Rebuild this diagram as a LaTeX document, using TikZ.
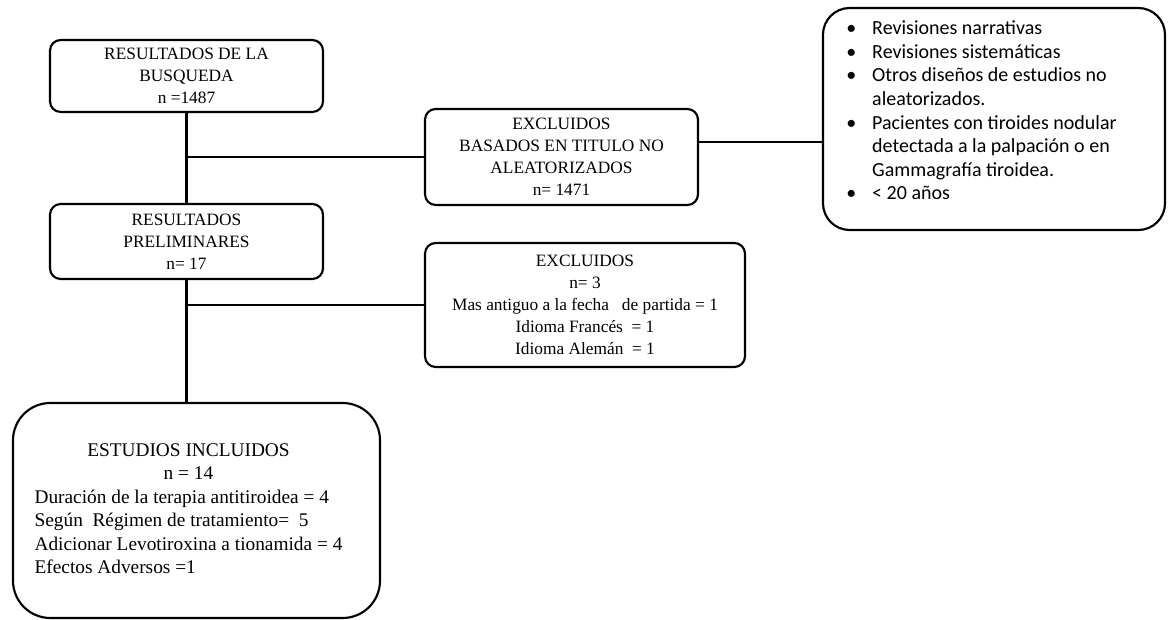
\documentclass[tikz,border=0pt]{standalone}
\usepackage{fontspec}
\setmainfont{Liberation Serif}
\newfontfamily\bulfont{Carlito}
\usetikzlibrary{calc}
\begin{document}
\begin{tikzpicture}[x=0.75pt,y=-0.75pt,
  boxbase/.style={draw=black, line width=1.6pt, align=center, inner sep=0pt},
  smallbox/.style={boxbase, rounded corners=8pt, font=\fontsize{13}{16.4}\selectfont},
  link/.style={draw=black, line width=1.6pt}]
\useasboundingbox (0,0) rectangle (1168,620);

\node[smallbox, minimum width=273*0.75pt, minimum height=72*0.75pt] (b1) at (186.5,76)
  {RESULTADOS DE LA\\BUSQUEDA\\n =1487};
\node[smallbox, minimum width=273*0.75pt, minimum height=75*0.75pt] (b2) at (186.5,241.5)
  {RESULTADOS\\PRELIMINARES\\n= 17};
\node[smallbox, minimum width=273*0.75pt, minimum height=96*0.75pt] (b3) at (561.5,157)
  {EXCLUIDOS\\BASADOS EN TITULO NO\\ALEATORIZADOS\\n= 1471};
\node[smallbox, minimum width=320*0.75pt, minimum height=124*0.75pt] (b5) at (585,305)
  {EXCLUIDOS\\n= 3\\Mas antiguo a la fecha\ \ \ de partida = 1\\Idioma Francés \ = 1\\Idioma Alemán \ = 1};
\node[boxbase, rounded corners=20pt, minimum width=342*0.75pt, minimum height=222*0.75pt] (b4) at (994,119) {};
\node[anchor=north west, inner sep=0pt, font=\bulfont\fontsize{15}{17.7}\selectfont] (b4t) at (846,18)
  {\begin{tabular}{@{}l@{\hspace{12pt}}l@{}}
   \textbullet & Revisiones narrativas\\
   \textbullet & Revisiones sistemáticas\\
   \textbullet & Otros diseños de estudios no\\
               & aleatorizados.\\
   \textbullet & Pacientes con tiroides nodular\\
               & detectada a la palpación o en\\
               & Gammagrafía tiroidea.\\
   \textbullet & < 20 años
   \end{tabular}};
\node[boxbase, rounded corners=28pt, minimum width=367*0.75pt, minimum height=215*0.75pt,
  font=\fontsize{14.5}{17.6}\selectfont] (b6) at (196.5,510.5)
  {\begin{tabular}{@{}l@{}}
   \multicolumn{1}{c}{ESTUDIOS INCLUIDOS}\\
   \multicolumn{1}{c}{n = 14}\\
   Duración de la terapia antitiroidea = 4\\
   Según\ \ Régimen de tratamiento=\ \ 5\\
   Adicionar Levotiroxina a tionamida = 4\\
   Efectos Adversos =1
   \end{tabular}\hspace*{12pt}};

\draw[link] (b1.south) -- (b2.north);
\draw[link] (b2.south) -- (b2.south |- b6.north);
\draw[link] (b1.south |- b3.west) -- (b3.west);
\draw[link] (b2.south |- b5.west) -- (b5.west);
\path (b3.east) ++(0,-15) coordinate (c3);
\draw[link] (c3) -- (b4.west |- c3);
\end{tikzpicture}
\end{document}
